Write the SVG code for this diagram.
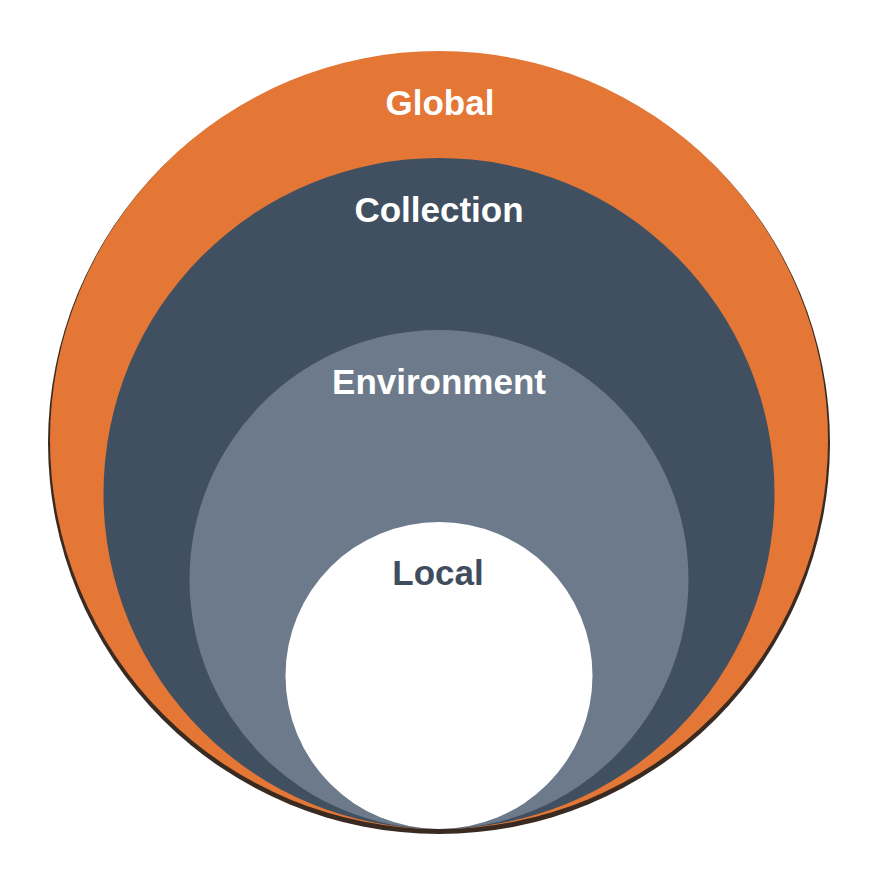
<svg xmlns="http://www.w3.org/2000/svg" width="880" height="880" viewBox="0 0 880 880">
  <style>
    .label { font-family: "Liberation Sans", Arial, sans-serif; font-weight: bold; font-size: 35px; text-anchor: middle; }
    .light { fill: #ffffff; }
    .dark { fill: #3f4d5e; }
  </style>
  <rect width="880" height="880" fill="#ffffff"/>
  <!-- soft dark rim under the outer ring -->
  <g id="global">
    <circle cx="439" cy="443" r="391" fill="#3a2b22"/>
    <circle cx="439" cy="440" r="389" fill="#e47735"/>
    <text class="label light" x="440" y="115">Global</text>
  </g>
  <g id="collection">
    <circle cx="439" cy="493.5" r="335.5" fill="#415060"/>
    <text class="label light" x="439" y="222">Collection</text>
  </g>
  <g id="environment">
    <circle cx="439" cy="579.5" r="249.5" fill="#6c7a8b"/>
    <text class="label light" x="439" y="394">Environment</text>
  </g>
  <g id="local">
    <circle cx="439" cy="675.5" r="153.5" fill="#ffffff"/>
    <text class="label dark" x="438" y="585">Local</text>
  </g>
  <g id="connectors"/>
</svg>
